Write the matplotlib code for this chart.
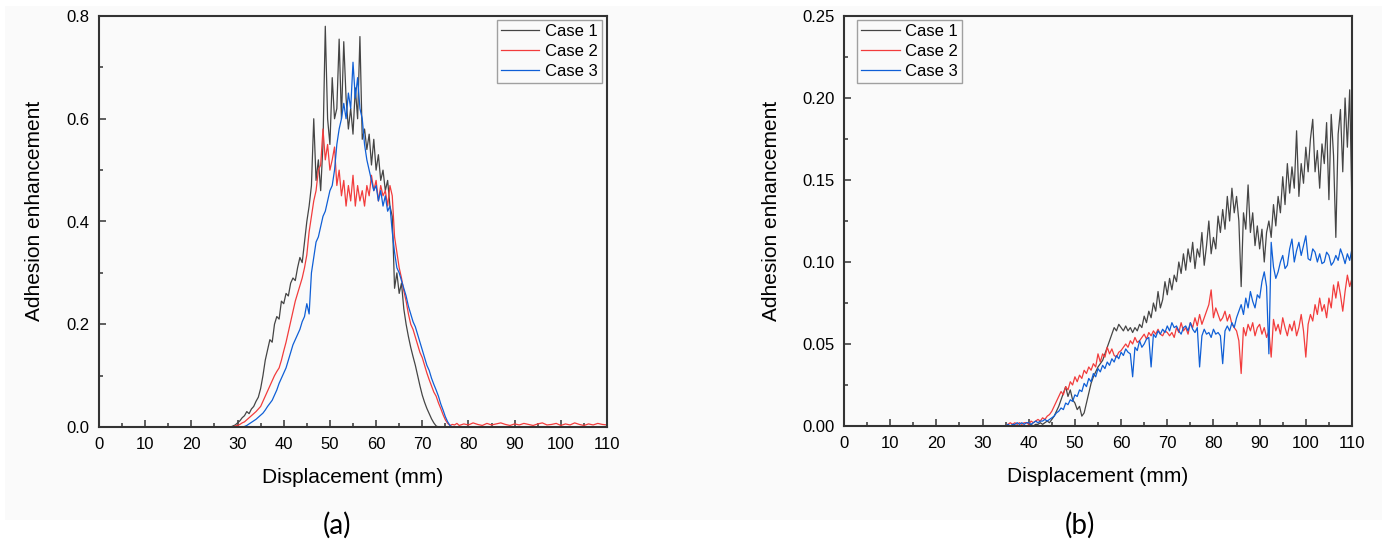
import numpy as np
import matplotlib
matplotlib.use("Agg")
import matplotlib.pyplot as plt
from matplotlib.patches import Rectangle
from matplotlib.ticker import MultipleLocator

plt.rcParams['font.family'] = ['Liberation Sans', 'DejaVu Sans']

# ---------------- data, panel (a) ----------------
# active region sampled every 0.5 mm from 28 to 78 mm, zero before that
x_a = np.arange(28, 78.01, 0.5)
x_a_tail = np.arange(79, 110.01, 1.0)

case1_a = [0, 0, 0.002, 0.004, 0.008, 0.012, 0.018, 0.022, 0.03, 0.026,
           0.035, 0.04, 0.05, 0.058, 0.075, 0.1, 0.13, 0.15, 0.17, 0.165,
           0.2, 0.215, 0.21, 0.245, 0.24, 0.26, 0.255, 0.28, 0.29, 0.285,
           0.31, 0.33, 0.32, 0.36, 0.4, 0.43, 0.47, 0.6, 0.48, 0.52,
           0.46, 0.55, 0.78, 0.6, 0.55, 0.68, 0.6, 0.62, 0.755, 0.6,
           0.75, 0.64, 0.58, 0.62, 0.57, 0.66, 0.6, 0.76, 0.56, 0.58,
           0.54, 0.57, 0.51, 0.56, 0.5, 0.53, 0.48, 0.5, 0.46, 0.48,
           0.43, 0.41, 0.27, 0.3, 0.26, 0.28, 0.23, 0.2, 0.176, 0.155,
           0.137, 0.12, 0.1, 0.08, 0.062, 0.048, 0.036, 0.026, 0.016, 0.008,
           0.002, 0, 0, 0, 0, 0, 0, 0, 0, 0,
           0]
case2_a = [0, 0, 0, 0.002, 0.003, 0.005, 0.008, 0.01, 0.014, 0.018,
           0.022, 0.026, 0.03, 0.035, 0.04, 0.05, 0.06, 0.07, 0.08, 0.09,
           0.1, 0.108, 0.115, 0.13, 0.148, 0.165, 0.185, 0.205, 0.225, 0.245,
           0.26, 0.275, 0.29, 0.31, 0.335, 0.38, 0.41, 0.44, 0.46, 0.5,
           0.51, 0.58, 0.52, 0.55, 0.5, 0.52, 0.545, 0.47, 0.5, 0.45,
           0.48, 0.43, 0.47, 0.44, 0.49, 0.43, 0.47, 0.44, 0.46, 0.43,
           0.47, 0.45, 0.49, 0.46, 0.48, 0.44, 0.47, 0.45, 0.46, 0.43,
           0.47, 0.45, 0.37, 0.34, 0.31, 0.29, 0.265, 0.245, 0.22, 0.2,
           0.19, 0.175, 0.16, 0.145, 0.135, 0.12, 0.105, 0.092, 0.08, 0.068,
           0.06, 0.047, 0.036, 0.024, 0.014, 0.007, 0.003, 0.005, 0.004, 0.007,
           0.003]
case2_a_tail = [0.006, 0.004, 0.008, 0.005, 0.003, 0.007, 0.004, 0.006, 0.008, 0.005,
                0.003, 0.006, 0.004, 0.007, 0.005, 0.003, 0.006, 0.008, 0.004, 0.005,
                0.007, 0.003, 0.006, 0.004, 0.008, 0.005, 0.003, 0.006, 0.004, 0.007,
                0.005, 0.004]
case3_a = [0, 0, 0, 0, 0, 0, 0, 0.001, 0.003, 0.006,
           0.009, 0.012, 0.015, 0.019, 0.023, 0.027, 0.033, 0.04, 0.046, 0.052,
           0.062, 0.072, 0.085, 0.095, 0.105, 0.115, 0.13, 0.145, 0.16, 0.17,
           0.18, 0.19, 0.205, 0.215, 0.24, 0.22, 0.3, 0.33, 0.36, 0.37,
           0.39, 0.41, 0.42, 0.44, 0.46, 0.47, 0.5, 0.55, 0.58, 0.6,
           0.63, 0.6, 0.65, 0.62, 0.71, 0.64, 0.68, 0.62, 0.6, 0.55,
           0.52, 0.5, 0.48, 0.46, 0.47, 0.44, 0.46, 0.43, 0.45, 0.42,
           0.43, 0.38, 0.34, 0.31, 0.3, 0.285, 0.27, 0.255, 0.235, 0.22,
           0.205, 0.195, 0.18, 0.165, 0.15, 0.135, 0.12, 0.11, 0.095, 0.083,
           0.072, 0.06, 0.045, 0.033, 0.02, 0.01, 0.003, 0, 0, 0,
           0]

# ---------------- data, panel (b) ----------------
x_b = np.arange(35, 110.01, 0.5)

case1_b = [0, 0, 0, 0, 0, 0, 0, 0, 0, 0,
           0, 0.001, 0, 0.001, 0.001, 0.002, 0.001, 0.002, 0.003, 0.002,
           0.004, 0.006, 0.009, 0.012, 0.016, 0.02, 0.024, 0.018, 0.022, 0.016,
           0.014, 0.01, 0.012, 0.006, 0.008, 0.014, 0.02, 0.026, 0.03, 0.033,
           0.036, 0.038, 0.04, 0.044, 0.048, 0.052, 0.056, 0.06, 0.058, 0.062,
           0.06, 0.058, 0.061, 0.058, 0.06, 0.057, 0.06, 0.058, 0.062, 0.06,
           0.067, 0.063, 0.07, 0.066, 0.075, 0.07, 0.082, 0.072, 0.077, 0.088,
           0.08, 0.09, 0.083, 0.092, 0.088, 0.1, 0.093, 0.105, 0.095, 0.108,
           0.1, 0.112, 0.096, 0.108, 0.103, 0.118, 0.098, 0.11, 0.125, 0.105,
           0.115, 0.108, 0.128, 0.118, 0.132, 0.12, 0.14, 0.125, 0.145, 0.13,
           0.14, 0.125, 0.085, 0.13, 0.12, 0.147, 0.118, 0.13, 0.11, 0.122,
           0.108, 0.12, 0.1, 0.118, 0.125, 0.115, 0.135, 0.122, 0.14, 0.13,
           0.152, 0.135, 0.16, 0.142, 0.158, 0.145, 0.18, 0.14, 0.16, 0.148,
           0.17, 0.155, 0.175, 0.187, 0.155, 0.168, 0.145, 0.172, 0.16, 0.185,
           0.138, 0.19, 0.165, 0.115, 0.178, 0.193, 0.155, 0.2, 0.17, 0.205,
           0.132]
case2_b = [0, 0.001, 0.002, 0.001, 0.002, 0.001, 0.002, 0.001, 0.002, 0.002,
           0.001, 0.003, 0.002, 0.003, 0.004, 0.003, 0.005, 0.004, 0.006, 0.007,
           0.009, 0.012, 0.015, 0.018, 0.021, 0.019, 0.024, 0.022, 0.027, 0.025,
           0.03, 0.027, 0.031, 0.029, 0.034, 0.032, 0.036, 0.034, 0.038, 0.036,
           0.044, 0.039, 0.044, 0.042, 0.048, 0.044, 0.047, 0.043, 0.042, 0.045,
           0.046, 0.048, 0.05, 0.048, 0.052, 0.05, 0.054, 0.051, 0.052, 0.054,
           0.056, 0.053, 0.057, 0.055, 0.058, 0.056, 0.059, 0.056, 0.055, 0.058,
           0.057, 0.055, 0.057, 0.054, 0.06, 0.057, 0.063, 0.058, 0.06, 0.056,
           0.063, 0.06, 0.066, 0.061, 0.068, 0.062, 0.066, 0.07, 0.074, 0.083,
           0.066, 0.072, 0.068, 0.064, 0.066, 0.07, 0.064, 0.068, 0.062, 0.06,
           0.058, 0.052, 0.032, 0.06, 0.055, 0.062, 0.058, 0.063, 0.055, 0.06,
           0.062, 0.056, 0.06, 0.054, 0.058, 0.042, 0.065, 0.058, 0.062, 0.056,
           0.066, 0.06, 0.055, 0.062, 0.058, 0.064, 0.055, 0.06, 0.068, 0.058,
           0.042, 0.062, 0.068, 0.064, 0.074, 0.068, 0.078, 0.07, 0.074, 0.066,
           0.078, 0.072, 0.086, 0.078, 0.088, 0.08, 0.07, 0.082, 0.092, 0.085,
           0.09]
case3_b = [0, 0.001, 0, 0.001, 0.001, 0.002, 0.001, 0.002, 0.001, 0.002,
           0.002, 0.001, 0.002, 0.003, 0.002, 0.003, 0.003, 0.004, 0.003, 0.004,
           0.005, 0.006, 0.008, 0.009, 0.011, 0.01, 0.014, 0.013, 0.016, 0.015,
           0.019, 0.018, 0.022, 0.021, 0.026, 0.024, 0.029, 0.027, 0.032, 0.03,
           0.035, 0.033, 0.037, 0.035, 0.039, 0.037, 0.041, 0.039, 0.043, 0.041,
           0.045, 0.043, 0.047, 0.045, 0.044, 0.03, 0.048, 0.046, 0.052, 0.048,
           0.05, 0.053, 0.054, 0.036, 0.056, 0.054, 0.058, 0.056, 0.059, 0.057,
           0.061, 0.058, 0.063, 0.06, 0.061, 0.058, 0.056, 0.06, 0.061, 0.058,
           0.063, 0.059, 0.057, 0.06, 0.036, 0.055, 0.059, 0.056, 0.057, 0.054,
           0.059, 0.056, 0.057, 0.055, 0.038, 0.058, 0.061, 0.058, 0.063, 0.06,
           0.066, 0.07, 0.074, 0.068, 0.078, 0.072, 0.082, 0.076, 0.072, 0.08,
           0.078, 0.088, 0.094, 0.085, 0.044, 0.112, 0.097, 0.09, 0.094, 0.1,
           0.104, 0.096, 0.098, 0.108, 0.114, 0.1, 0.107, 0.112, 0.104, 0.11,
           0.116, 0.102, 0.101, 0.108, 0.106, 0.1, 0.105, 0.099, 0.1, 0.106,
           0.104, 0.098, 0.1, 0.104, 0.101, 0.108, 0.104, 0.099, 0.105, 0.101,
           0.108]

labels = ['Case 1', 'Case 2', 'Case 3']
colors = ['#454545', '#f23c3c', '#0f5fd6']

fig = plt.figure(figsize=(13.87, 5.43), dpi=100)
fig.patch.set_facecolor('white')
fig.patches.append(Rectangle((5 / 1387, 1 - 520 / 543), 1377 / 1387, 514 / 543,
                             transform=fig.transFigure, facecolor='#fafafa',
                             edgecolor='none', zorder=-10))

ax_a = fig.add_axes([99 / 1387, 1 - 427 / 543, 508 / 1387, 411 / 543])
ax_b = fig.add_axes([844 / 1387, 1 - 426 / 543, 508 / 1387, 410 / 543])

# panel (a)
tail_zero = np.zeros(len(x_a_tail))
ax_a.plot(np.r_[0, x_a, x_a_tail], np.r_[0, case1_a, tail_zero], color=colors[0], lw=0.9, label=labels[0])
ax_a.plot(np.r_[0, x_a, x_a_tail], np.r_[0, case2_a, case2_a_tail], color=colors[1], lw=0.9, label=labels[1])
ax_a.plot(np.r_[0, x_a, x_a_tail], np.r_[0, case3_a, tail_zero], color=colors[2], lw=0.9, label=labels[2])
ax_a.set_ylim(0, 0.8)
ax_a.yaxis.set_major_locator(MultipleLocator(0.2))
ax_a.yaxis.set_minor_locator(MultipleLocator(0.1))
ax_a.set_yticklabels([]) if False else None

# panel (b)
ax_b.plot(np.r_[0, x_b], np.r_[0, case1_b], color=colors[0], lw=0.9, label=labels[0])
ax_b.plot(np.r_[0, x_b], np.r_[0, case2_b], color=colors[1], lw=0.9, label=labels[1])
ax_b.plot(np.r_[0, x_b], np.r_[0, case3_b], color=colors[2], lw=0.9, label=labels[2])
ax_b.set_ylim(0, 0.25)
ax_b.yaxis.set_major_locator(MultipleLocator(0.05))
ax_b.yaxis.set_minor_locator(MultipleLocator(0.025))

for ax, ylab_x in [(ax_a, -0.126), (ax_b, -0.142)]:
    ax.set_facecolor('#fafafa')
    ax.set_xlim(0, 110)
    ax.xaxis.set_major_locator(MultipleLocator(10))
    ax.xaxis.set_minor_locator(MultipleLocator(5))
    for s in ax.spines.values():
        s.set_linewidth(1.5)
        s.set_color('#333333')
    ax.tick_params(which='both', direction='in', top=False, right=False,
                   color='#333333', width=1.1)
    ax.tick_params(which='major', length=5, labelsize=12, pad=7)
    ax.tick_params(which='minor', length=3)
    ax.set_xlabel('Displacement (mm)', fontsize=15)
    ax.set_ylabel('Adhesion enhancement', fontsize=15)
    ax.xaxis.set_label_coords(0.5, -0.122)
    ax.xaxis.label.set_va('center')
    ax.yaxis.set_label_coords(ylab_x, 0.525)
    ax.yaxis.label.set_va('center')

ax_a.yaxis.set_major_formatter(matplotlib.ticker.FormatStrFormatter('%.1f'))
ax_b.yaxis.set_major_formatter(matplotlib.ticker.FormatStrFormatter('%.2f'))

leg_kw = dict(fontsize=12, frameon=True, fancybox=False, framealpha=1,
              edgecolor='#a0a0a0', facecolor='#fafafa', handlelength=2.3,
              handletextpad=0.35, borderpad=0.25, labelspacing=0.3,
              borderaxespad=0)
la = ax_a.legend(loc='upper right', bbox_to_anchor=(0.990, 0.990), **leg_kw)
lb = ax_b.legend(loc='upper left', bbox_to_anchor=(0.0256, 0.990), **leg_kw)
for lg in (la, lb):
    lg.get_frame().set_linewidth(1.0)

fig.text(337 / 1387, 1 - 525 / 543, '(a)', fontsize=20, family=['Lato', 'DejaVu Sans'],
         ha='center', va='center')
fig.text(1080 / 1387, 1 - 525 / 543, '(b)', fontsize=20, family=['Lato', 'DejaVu Sans'],
         ha='center', va='center')

fig.savefig('out.png', dpi=100, facecolor='white')
